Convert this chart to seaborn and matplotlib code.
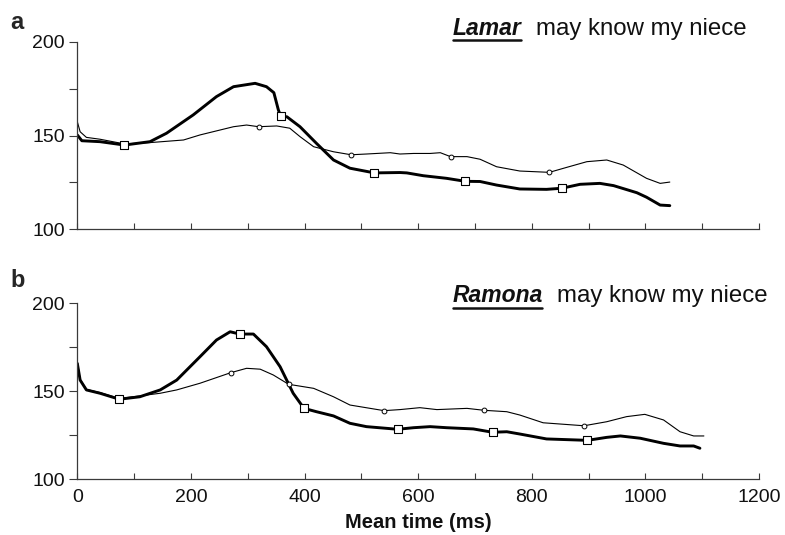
import matplotlib
matplotlib.use("Agg")
import matplotlib.pyplot as plt
import seaborn as sns
from matplotlib.lines import Line2D

# ---- data ----
# Panel a: "Lamar may know my niece"
a_thick_t = [0, 8, 40, 83, 128, 157, 204, 245, 275, 313, 333, 346, 354, 358, 369, 392, 421, 451, 480, 523,
             568, 580, 609, 650, 683, 709, 738, 779, 826, 853, 885, 920, 944, 985, 1002, 1026, 1043]
a_thick_v = [150.3, 147.2, 146.7, 144.9, 146.7, 151.2, 161, 170.8, 176.1, 177.9, 176.1, 172.9, 163.6, 160.4, 160, 154.7, 145.8, 136.9, 132.5, 130,
             130.2, 130, 128.5, 127.1, 125.5, 125.4, 123.5, 121.4, 121.2, 121.8, 123.9, 124.4, 123.2, 119.4, 117, 112.8, 112.5]
a_thin_t = [0, 5, 16, 40, 83, 128, 187, 216, 275, 298, 319, 351, 374, 392, 416, 451, 482, 509, 551, 568,
            592, 621, 639, 657, 686, 709, 738, 779, 831, 862, 897, 932, 961, 1002, 1026, 1043]
a_thin_v = [157.4, 152, 149, 148, 145.5, 146.2, 147.6, 150.3, 154.7, 155.6, 154.7, 155.1, 153.9, 149.4, 144, 141.3, 139.7, 140.1, 140.8, 140.1,
            140.4, 140.4, 140.8, 138.7, 138.7, 137.3, 133.3, 131, 130.3, 133, 136, 136.9, 134.2, 127.1, 124.4, 125.1]
a_sq_t = [83, 358, 523, 683, 853]
a_sq_v = [144.9, 160.4, 130, 125.5, 121.8]
a_ci_t = [319, 482, 657, 831]
a_ci_v = [154.7, 139.7, 138.7, 130.3]

# Panel b: "Ramona may know my niece"
b_thick_t = [0, 5, 16, 40, 74, 110, 146, 175, 216, 245, 269, 286, 310, 333, 357, 380, 399, 421, 451, 480, 509, 564,
             592, 621, 650, 697, 731, 756, 779, 826, 898, 932, 956, 991, 1032, 1061, 1085, 1096]
b_thick_v = [165.8, 156.3, 150.7, 148.8, 145.4, 146.8, 150.7, 156.3, 169.6, 179.1, 183.8, 182.5, 182.5, 175.3, 163.9, 148.8, 140.2, 138.3, 135.9, 131.7, 129.8, 128.3,
             129.2, 129.8, 129.2, 128.5, 126.6, 126.9, 125.6, 122.8, 122, 123.7, 124.5, 123.2, 120.3, 118.8, 118.8, 117.5]
b_thin_t = [0, 5, 16, 40, 74, 110, 146, 175, 216, 270, 298, 322, 345, 372, 416, 451, 480, 540, 568,
            603, 633, 686, 716, 756, 779, 820, 892, 932, 967, 999, 1032, 1061, 1085, 1103]
b_thin_v = [166.8, 156.8, 151, 149.2, 145.8, 147.3, 148.8, 150.7, 154.5, 160.5, 163, 162.5, 159.2, 153.9, 151.6, 146.8, 142.1, 138.9, 139.5,
            140.6, 139.5, 140.2, 139.1, 138.3, 136.4, 132, 130.3, 132.6, 135.5, 136.8, 133.6, 126.9, 124.5, 124.5]
b_sq_t = [74, 286, 399, 564, 731, 898]
b_sq_v = [145.4, 182.5, 140.2, 128.3, 126.6, 122]
b_ci_t = [270, 372, 540, 716, 892]
b_ci_v = [160.5, 153.9, 138.9, 139.1, 130.3]

names = ["Lamar", "Ramona"]
rest_text = "may know my niece"
panel_letters = ["a", "b"]
x_ticks = [0, 200, 400, 600, 800, 1000, 1200]
y_ticks = [100, 150, 200]

sns.set_theme(style="white")
plt.rcParams["font.family"] = ["Liberation Sans", "DejaVu Sans"]

W, H = 785, 535
fig = plt.figure(figsize=(W / 100, H / 100), dpi=100)
ax_a = fig.add_axes([77.3 / W, 1 - 229 / H, 681.7 / W, 187 / H])
ax_b = fig.add_axes([77.3 / W, 1 - 479 / H, 681.7 / W, 175.7 / H])

spine_col = "#3a3a3a"
panels = [
    (ax_a, a_thick_t, a_thick_v, a_thin_t, a_thin_v, a_sq_t, a_sq_v, a_ci_t, a_ci_v),
    (ax_b, b_thick_t, b_thick_v, b_thin_t, b_thin_v, b_sq_t, b_sq_v, b_ci_t, b_ci_v),
]
for i, (ax, tt, tv, nt, nv, st, sv, ct, cv) in enumerate(panels):
    sns.lineplot(x=nt, y=nv, ax=ax, color="black", lw=0.8, sort=False)
    sns.lineplot(x=tt, y=tv, ax=ax, color="black", lw=2.1, sort=False)
    sns.scatterplot(x=ct, y=cv, ax=ax, marker="o", s=12, facecolor="white",
                    edgecolor="black", linewidth=0.7, zorder=5)
    sns.scatterplot(x=st, y=sv, ax=ax, marker="s", s=28, facecolor="white",
                    edgecolor="black", linewidth=0.8, zorder=6)
    ax.set_xlim(0, 1200)
    ax.set_ylim(100, 200)
    ax.set_xticks(range(0, 1201, 100))
    ax.set_yticks([100, 125, 150, 175, 200])
    ax.set_yticklabels([str(v) if v in y_ticks else "" for v in [100, 125, 150, 175, 200]])
    if i == 1:
        ax.set_xticklabels([str(v) if v in x_ticks else "" for v in range(0, 1201, 100)])
    else:
        ax.set_xticklabels([])
    ax.set_xlabel("")
    ax.tick_params(axis="x", direction="in", length=4, width=0.8, color=spine_col,
                   labelsize=14, pad=7, bottom=True, labelcolor="#111111")
    ax.tick_params(axis="y", direction="out", length=6, width=0.8, color=spine_col,
                   labelsize=14, pad=3, left=True, labelcolor="#111111")
    for s in ["top", "right"]:
        ax.spines[s].set_visible(False)
    for s in ["left", "bottom"]:
        ax.spines[s].set_color(spine_col)
        ax.spines[s].set_linewidth(0.9)
    ax.set_ylabel("")
    ax.grid(False)

fig.text(418 / W, 1 - 523 / H, "Mean time (ms)", fontsize=14.5, fontweight="bold",
         ha="center", va="center", color="#111111")

# panel letters
fig.text(10 / W, 1 - 29 / H, panel_letters[0], fontsize=17, fontweight="bold", va="baseline", ha="left")
fig.text(10 / W, 1 - 287 / H, panel_letters[1], fontsize=17, fontweight="bold", va="baseline", ha="left")

# titles with underlined bold-italic names
fig.canvas.draw()
renderer = fig.canvas.get_renderer()
title_specs = [(453, 35, 39.5), (453, 302, 307.5)]
for name, (x0, yb, yu) in zip(names, title_specs):
    t1 = fig.text(x0 / W, 1 - yb / H, name, fontsize=16.5, fontweight="bold",
                  fontstyle="italic", ha="left", va="baseline", color="#111111")
    bb = t1.get_window_extent(renderer=renderer)
    fig.text((bb.x1 + 14) / W, 1 - yb / H, rest_text, fontsize=17.3,
             ha="left", va="baseline", color="#111111")
    fig.add_artist(Line2D([bb.x0 / W, (bb.x1 - 1) / W], [1 - yu / H, 1 - yu / H],
                          color="#111111", lw=1.8, transform=fig.transFigure))

fig.savefig("out.png", dpi=100)
